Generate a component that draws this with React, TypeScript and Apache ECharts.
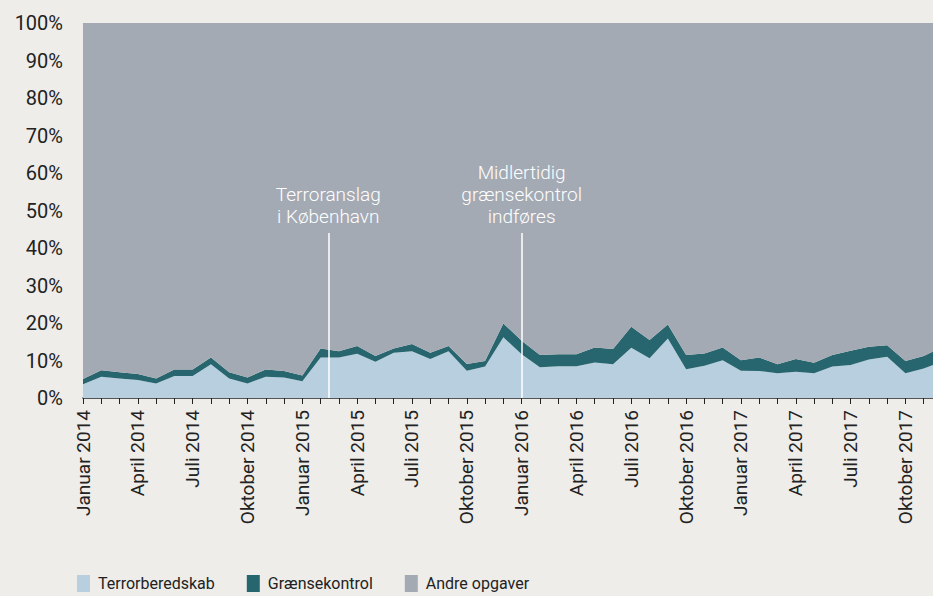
import React, { useEffect, useRef } from "react";
import * as echarts from "echarts";

const monthNames = ["Januar", "Februar", "Marts", "April", "Maj", "Juni", "Juli", "August", "September", "Oktober", "November", "December"];
const years = [2014, 2015, 2016, 2017];
const months: string[] = [];
years.forEach((y) => monthNames.forEach((m) => months.push(`${m} ${y}`)));

const terror = [3.7, 5.7, 5.2, 4.8, 3.9, 5.9, 5.9, 9.0, 5.2, 3.9, 5.7, 5.5, 4.5, 10.8, 10.8, 11.8, 9.7, 12.1, 12.5, 10.4, 12.5, 7.3, 8.4, 16.2, 11.7, 8.2, 8.5, 8.5, 9.5, 9.0, 13.4, 10.6, 15.9, 7.7, 8.6, 10.1, 7.3, 7.2, 6.6, 7.0, 6.6, 8.4, 8.8, 10.3, 11.0, 6.6, 7.9, 9.7];
const graense = [1.4, 1.7, 1.7, 1.6, 1.3, 1.7, 1.7, 1.8, 1.7, 1.6, 1.9, 1.7, 1.5, 2.4, 1.7, 2.1, 1.5, 1.1, 1.9, 1.7, 1.4, 1.8, 1.5, 3.7, 3.6, 3.3, 3.2, 3.2, 4.0, 4.1, 5.6, 4.9, 3.7, 3.8, 3.3, 3.4, 2.8, 3.6, 2.4, 3.4, 2.8, 3.1, 3.8, 3.4, 3.1, 3.3, 3.3, 3.8];
const andre = [94.9, 92.6, 93.1, 93.6, 94.8, 92.4, 92.4, 89.2, 93.1, 94.5, 92.4, 92.8, 94.0, 86.8, 87.5, 86.1, 88.8, 86.8, 85.6, 87.9, 86.1, 90.9, 90.1, 80.1, 84.7, 88.5, 88.3, 88.3, 86.5, 86.9, 81.0, 84.5, 80.4, 88.5, 88.1, 86.5, 89.9, 89.2, 91.0, 89.6, 90.6, 88.5, 87.4, 86.3, 85.9, 90.1, 88.8, 86.5];

const events = [
  { pos: 13.42, label: "Terroranslag\ni København" },
  { pos: 24.0, label: "Midlertidig\ngrænsekontrol\nindføres" },
];
const eventLineTop = 44;

const seriesNames = ["Terrorberedskab", "Grænsekontrol", "Andre opgaver"];
const colors = ["#b7cfdf", "#27666f", "#a4aab4"];

const axisFont = "Roboto, 'Noto Sans', sans-serif";

export default function App() {
  const ref = useRef<HTMLDivElement>(null);
  useEffect(() => {
    if (!ref.current) return;
    const chart = echarts.init(ref.current, undefined, { renderer: "svg" });
    const datasets = [terror, graense, andre];
    const series: any[] = datasets.map((d, i) => ({
      name: seriesNames[i],
      type: "line",
      stack: "total",
      xAxisIndex: 0,
      data: d,
      symbol: "none",
      lineStyle: { width: 0 },
      areaStyle: { color: colors[i], opacity: 1 },
      itemStyle: { color: colors[i] },
      z: 2,
    }));
    series.push({
      name: "events",
      type: "line",
      xAxisIndex: 1,
      data: [],
      symbol: "none",
      silent: true,
      markLine: {
        silent: true,
        symbol: "none",
        z: 10,
        lineStyle: { color: "#ffffff", width: 1.5, type: "solid" },
        label: {
          show: true,
          position: "end",
          color: "#ffffff",
          fontFamily: axisFont,
          fontWeight: 300,
          fontSize: 19,
          lineHeight: 22,
          distance: 6,
        },
        data: events.map((e) => [
          { coord: [e.pos, 0] },
          { coord: [e.pos, eventLineTop], label: { formatter: e.label } },
        ]),
      },
    });
    chart.setOption({
      animation: false,
      backgroundColor: "#eeede9",
      grid: { left: 83, top: 23, width: 859, height: 375 },
      legend: {
        left: 77,
        top: 575,
        padding: 0,
        itemWidth: 13,
        itemHeight: 17,
        itemGap: 32,
        icon: "rect",
        data: seriesNames,
        textStyle: { fontFamily: axisFont, fontSize: 16, color: "#222", padding: [0, 0, 0, 3] },
      },
      xAxis: [
        {
          type: "category",
          data: months,
          boundaryGap: false,
          axisLine: { show: true, lineStyle: { color: "#222", width: 1.5 } },
          axisTick: { show: true, interval: 0, length: 6, lineStyle: { color: "#222" } },
          axisLabel: {
            rotate: 90,
            margin: 12,
            interval: 2,
            fontFamily: axisFont,
            fontSize: 19,
            color: "#222",
          },
        },
        {
          type: "value",
          min: 0,
          max: 47,
          show: false,
          splitLine: { show: false },
        },
      ],
      yAxis: {
        type: "value",
        min: 0,
        max: 100,
        interval: 10,
        splitLine: { show: false },
        axisLine: { show: false },
        axisTick: { show: false },
        axisLabel: {
          margin: 20,
          fontFamily: axisFont,
          fontSize: 20,
          color: "#222",
          formatter: "{value}%",
        },
      },
      series,
    });
    return () => chart.dispose();
  }, []);
  return (
    <div style={{ position: "absolute", left: 0, top: 0, width: 933, height: 596, overflow: "hidden", background: "#eeede9" }}>
      <div ref={ref} style={{ width: 950, height: 596 }} />
    </div>
  );
}
